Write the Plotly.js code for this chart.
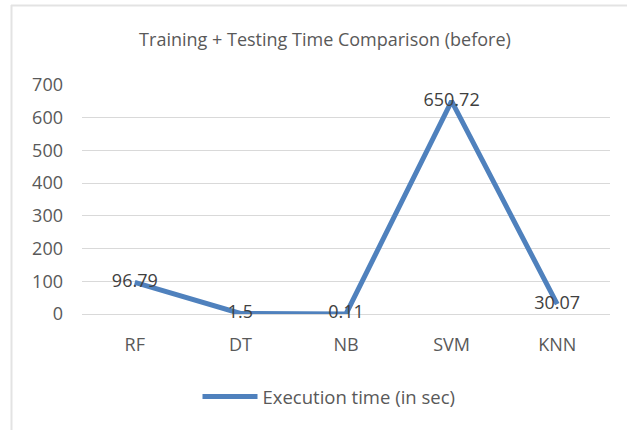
<!DOCTYPE html>
<html>
<head>
<meta charset="utf-8">
<script src="https://cdn.plot.ly/plotly-3.0.1.min.js"></script>
<style>
html,body{margin:0;padding:0;background:#fff;}
#chart{width:627px;height:430px;}
</style>
</head>
<body>
<div id="chart"></div>
<script>
const categories = ["RF", "DT", "NB", "SVM", "KNN"];
const executionTime = [96.79, 1.5, 0.11, 650.72, 30.07];
const valueLabels = ["96.79", "1.5", "0.11", "650.72", "30.07"];
const yTicks = [0, 100, 200, 300, 400, 500, 600, 700];
const seriesName = "Execution time (in sec)";
const chartTitle = "Training + Testing Time Comparison (before)";

const FONT = "Open Sans, Calibri, sans-serif";
const plotL = 82, plotR = 610, plotT = 85, plotB = 314, W = 627, H = 430;
const pw = plotR - plotL, ph = plotB - plotT;
const px = v => (v - plotL) / pw;
const py = v => (plotB - v) / ph;

const trace = {
  x: categories,
  y: executionTime,
  name: seriesName,
  type: "scatter",
  mode: "lines+text",
  text: valueLabels,
  textposition: "middle center",
  textfont: {family: FONT, size: 18, color: "#404040"},
  line: {color: "#4f81bd", width: 5},
  cliponaxis: false,
  hoverinfo: "x+y"
};

const layout = {
  width: W, height: H,
  margin: {l: plotL, r: W - plotR, t: plotT, b: H - plotB},
  paper_bgcolor: "#ffffff",
  plot_bgcolor: "#ffffff",
  font: {family: FONT, color: "#595959"},
  title: {
    text: chartTitle,
    font: {family: FONT, size: 18, color: "#595959"},
    x: 325 / W, xref: "container", xanchor: "center",
    y: 1 - 40 / H, yref: "container", yanchor: "middle"
  },
  xaxis: {
    type: "category",
    range: [-0.5, 4.5],
    showgrid: false,
    showline: false,
    zeroline: false,
    ticks: "",
    ticklabelstandoff: 18,
    tickfont: {family: FONT, size: 18, color: "#595959"},
    fixedrange: true
  },
  yaxis: {
    range: [0, 700],
    tickvals: yTicks,
    ticktext: yTicks.map(String),
    showgrid: true,
    gridcolor: "#d9d9d9",
    gridwidth: 1,
    zeroline: true,
    zerolinecolor: "#d9d9d9",
    zerolinewidth: 1,
    showline: false,
    ticks: "",
    ticklabelstandoff: 18,
    tickfont: {family: FONT, size: 18, color: "#595959"},
    fixedrange: true
  },
  showlegend: true,
  legend: {
    orientation: "h",
    x: px(329), xanchor: "center",
    y: py(397), yanchor: "middle",
    font: {family: FONT, size: 18.5, color: "#595959"},
    itemwidth: 55,
    bgcolor: "rgba(0,0,0,0)"
  },
  shapes: [
    {type: "line", xref: "paper", yref: "paper",
     x0: px(11.5), x1: px(11.5), y0: py(5), y1: py(432),
     line: {color: "#e3e3e3", width: 2}},
    {type: "line", xref: "paper", yref: "paper",
     x0: px(11), x1: px(630), y0: py(5.5), y1: py(5.5),
     line: {color: "#e3e3e3", width: 2}}
  ]
};

Plotly.newPlot("chart", [trace], layout, {displayModeBar: false, staticPlot: true});
</script>
</body>
</html>
